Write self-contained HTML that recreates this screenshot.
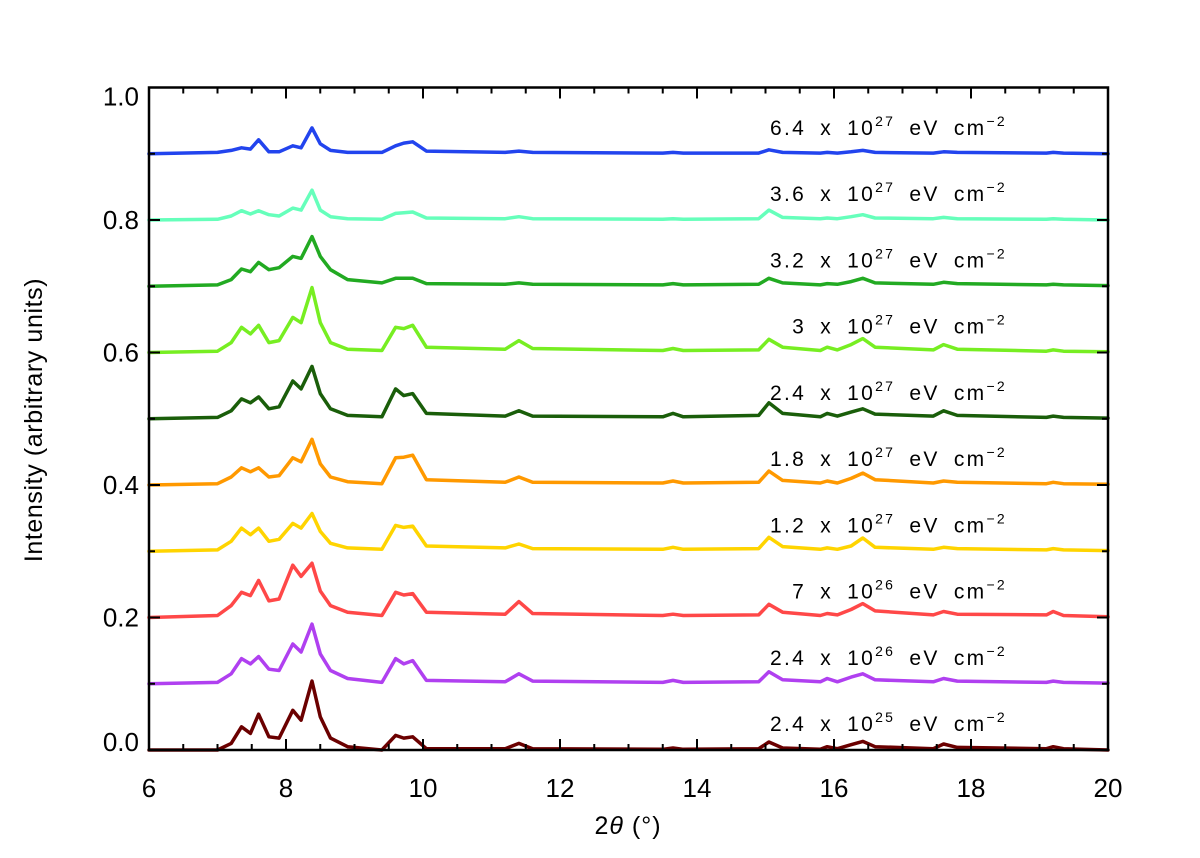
<!DOCTYPE html>
<html><head><meta charset="utf-8"><style>
html,body{margin:0;padding:0;background:#fff;}
svg{display:block;font-family:"Liberation Sans",sans-serif;}
</style></head><body>
<svg id="chart" width="1200" height="858" viewBox="0 0 1200 858" xmlns="http://www.w3.org/2000/svg">
<g id="series"></g>
<g id="axes"></g>
<g id="labels"></g>
<text x="628" y="834" font-size="25" text-anchor="middle" letter-spacing="1">2<tspan font-style="italic">θ</tspan> (°)</text>
<text transform="translate(42,420) rotate(-90)" font-size="25" text-anchor="middle" letter-spacing="0.6">Intensity (arbitrary units)</text>
</svg>
<script>
const xKeys=[6,7.0,7.2,7.35,7.48,7.6,7.75,7.9,8.1,8.22,8.38,8.5,8.65,8.9,9.4,9.6,9.72,9.85,10.05,11.2,11.4,11.6,13.5,13.65,13.8,14.9,15.05,15.25,15.8,15.9,16.05,16.25,16.42,16.6,17.45,17.6,17.8,19.1,19.2,19.35,20];
const offsets=[0,0.1,0.2,0.3,0.4,0.5,0.6,0.7,0.8,0.9];
const colors=["#6b0000","#b040f0","#ff4848","#ffd400","#ff9900","#1a5e0a","#77ee22","#22aa22","#66ffbb","#2244ee"];
const mant=["2.4","2.4","7","1.2","1.8","2.4","3","3.2","3.6","6.4"];
const expo=["25","26","26","27","27","27","27","27","27","27"];
const s0=[0,0,10,35,25,54,20,18,60,45,104,50,18,5,0,22,18,20,2,2,10,2,1,3,1,2,12,3,1,5,2,8,13,5,2,9,4,2,5,2,0];
const s1=[0,2,15,38,30,41,22,20,60,48,90,45,20,8,2,38,30,35,5,3,15,4,2,5,2,3,18,6,3,8,3,10,15,6,3,8,4,2,4,2,1];
const s2=[0,3,18,38,33,56,25,28,79,62,82,40,18,8,3,38,34,36,8,5,24,6,3,5,3,4,20,8,3,6,4,12,21,10,4,9,5,4,9,3,1];
const s3=[0,2,15,35,25,35,15,18,42,35,57,30,12,5,3,39,36,38,8,5,11,4,3,6,3,4,21,7,3,5,3,8,20,6,3,6,4,2,4,2,1];
const s4=[0,2,12,26,20,26,12,14,41,35,69,32,12,5,2,41,42,45,8,4,12,4,3,6,3,4,21,7,3,6,3,10,18,8,3,6,4,2,4,2,1];
const s5=[0,2,12,30,24,33,15,18,57,45,79,38,15,5,3,45,35,38,8,4,12,4,3,8,3,5,24,8,3,8,4,10,15,7,4,12,5,2,4,2,1];
const s6=[0,2,15,38,28,41,15,18,53,45,98,45,15,5,3,38,36,41,8,5,18,6,3,6,3,4,20,8,3,8,4,12,21,8,4,12,5,2,4,2,1];
const s7=[0,2,10,26,22,36,25,28,45,42,75,45,25,10,5,12,12,12,4,3,5,3,2,4,2,3,12,5,2,4,3,7,12,5,3,6,4,2,3,2,1];
const s8=[0,1,6,14,9,14,8,6,18,15,45,15,5,2,1,10,11,12,3,2,5,2,1,2,1,2,15,4,2,3,2,5,8,3,2,4,2,1,2,1,0];
const s9=[0,2,5,9,7,21,3,3,12,9,39,15,5,2,2,12,16,18,4,2,4,2,1,2,1,1,6,2,1,2,1,3,5,2,1,3,2,1,2,1,0];
const seriesVals=[s0,s1,s2,s3,s4,s5,s6,s7,s8,s9];
const xTicks=[6,8,10,12,14,16,18,20];
const yTicks=["0.0","0.2","0.4","0.6","0.8","1.0"];

const L=149,R=1108,T=87.5,B=750;
const X=v=>L+(v-6)/14*(R-L);
const Y=v=>B-v*(B-T);
const NS="http://www.w3.org/2000/svg";
function mk(tag,attrs,parent){const e=document.createElementNS(NS,tag);for(const k in attrs)e.setAttribute(k,attrs[k]);parent.appendChild(e);return e;}
const gS=document.getElementById('series'),gA=document.getElementById('axes'),gL=document.getElementById('labels');

seriesVals.forEach((vals,i)=>{
  const d="M"+xKeys.map((x,j)=>X(x).toFixed(1)+","+Y(offsets[i]+vals[j]/1000).toFixed(1)).join(" L");
  const p=mk('path',{d:d,fill:'none',stroke:colors[i],'stroke-width':3.5,'stroke-linejoin':'round','stroke-linecap':'round'},gS);
  
  
  const t=mk('text',{x:1007,y:Y(offsets[i])-19,'font-size':21,'text-anchor':'end','letter-spacing':'2.3','word-spacing':'6'},gL);
  
  
  t.innerHTML=`${mant[i]} x 10<tspan dy="-9" font-size="14">${expo[i]}</tspan><tspan dy="9"> eV cm</tspan><tspan dy="-9" font-size="14">−2</tspan>`;
});

const frame=mk('rect',{x:L,y:T,width:R-L,height:B-T,fill:'none',stroke:'#000','stroke-width':2.5},gA);


for(let v=6;v<=20.001;v+=0.5){
  const major=Math.abs(v-Math.round(v/2)*2)<0.01;const len=major?11:6;const x=X(v);
  mk('line',{x1:x,x2:x,y1:B,y2:B-len,stroke:'#000','stroke-width':2},gA);
  mk('line',{x1:x,x2:x,y1:T,y2:T+len,stroke:'#000','stroke-width':2},gA);
}
for(let k=0;k<=10;k++){
  const v=k/10;const len=k%2===0?11:6;const y=Y(v);
  mk('line',{x1:L,x2:L+len,y1:y,y2:y,stroke:'#000','stroke-width':2},gA);
  mk('line',{x1:R,x2:R-len,y1:y,y2:y,stroke:'#000','stroke-width':2},gA);
}
xTicks.forEach(v=>{
  const t=mk('text',{x:X(v),y:797,'font-size':26,'text-anchor':'middle'},gA);
  
  
  t.textContent=v;
});
yTicks.forEach(s=>{
  const v=parseFloat(s);
  const shift=v===1?9:(v===0?-8:0);
  const t=mk('text',{x:139,y:Y(v)+9+shift,'font-size':26,'text-anchor':'end'},gA);
  
  
  t.textContent=s;
});
</script>
</body></html>
